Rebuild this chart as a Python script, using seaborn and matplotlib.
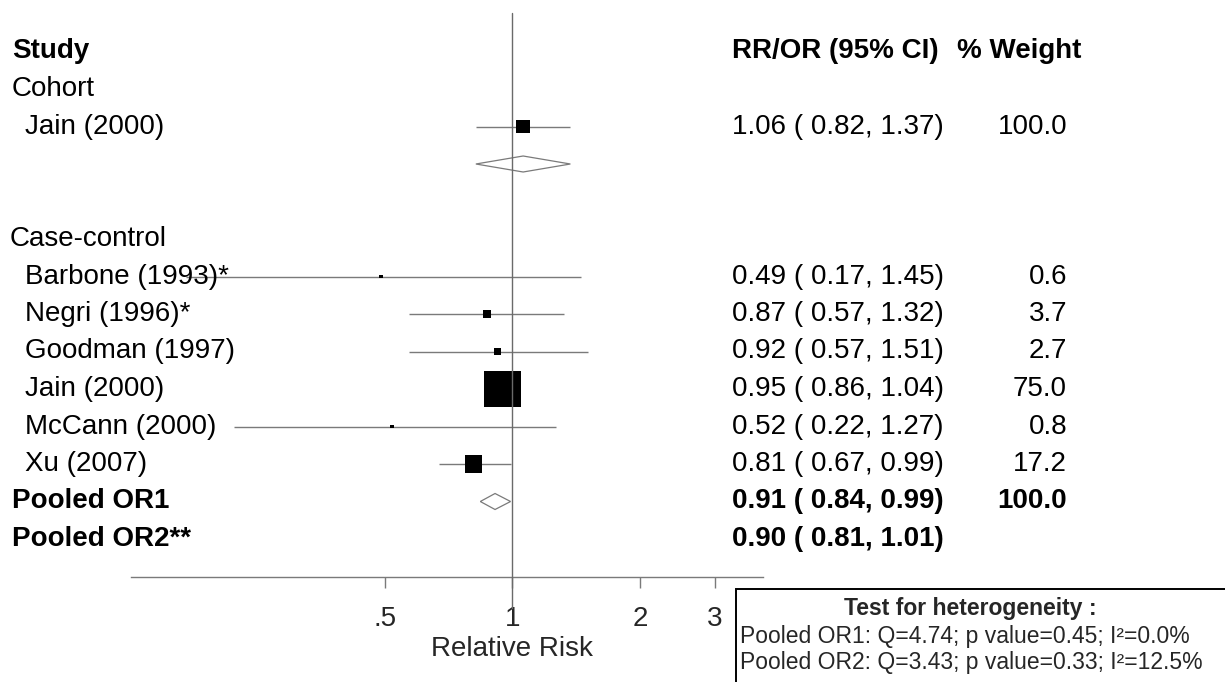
import matplotlib
matplotlib.use("Agg")
import matplotlib.pyplot as plt
import matplotlib.transforms as mtransforms
from matplotlib.patches import Rectangle
from matplotlib.ticker import FixedLocator, FixedFormatter, NullLocator
import pandas as pd
import seaborn as sns

# ---- data ----
COHORT_STUDIES = ["Jain (2000)"]
COHORT_RR = [1.06]
COHORT_LO = [0.82]
COHORT_HI = [1.37]
COHORT_W = [100.0]

CC_STUDIES = ["Barbone (1993)*", "Negri (1996)*", "Goodman (1997)",
              "Jain (2000)", "McCann (2000)", "Xu (2007)"]
CC_RR = [0.49, 0.87, 0.92, 0.95, 0.52, 0.81]
CC_LO = [0.17, 0.57, 0.57, 0.86, 0.22, 0.67]
CC_HI = [1.45, 1.32, 1.51, 1.04, 1.27, 0.99]
CC_W = [0.6, 3.7, 2.7, 75.0, 0.8, 17.2]

POOLED_LABELS = ["Pooled OR1", "Pooled OR2**"]
POOLED_RR = [0.91, 0.90]
POOLED_LO = [0.84, 0.81]
POOLED_HI = [0.99, 1.01]
POOLED_W = ["100.0", ""]

XTICKS = [0.5, 1, 2, 3]
XTICK_LABELS = [".5", "1", "2", "3"]
HET_TITLE = "Test for heterogeneity :"
HET_LINES = ["Pooled OR1: Q=4.74; p value=0.45; I²=0.0%",
             "Pooled OR2: Q=3.43; p value=0.33; I²=12.5%"]

# ---- layout (pixels of a 1225x682 canvas) ----
W, H = 1225, 682
ROW_TOP, ROW_STEP = 51.5, 37.5          # y pixel of row 0 and row spacing
AX_L, AX_R, AX_T, AX_B = 131, 763, 13, 577
FS = 20
GREY = "#7a7a7a"
AREA_PER_W = 9.45                        # pt^2 per % weight (case-control)
COHORT_AREA_PER_W = 1.0


def row_of(py):
    return (py - ROW_TOP) / ROW_STEP


def ci_text(rr, lo, hi):
    return f"{rr:.2f} ( {lo:.2f}, {hi:.2f})"


sns.set_style("white")
plt.rcParams["font.family"] = ["Liberation Sans", "DejaVu Sans"]

fig = plt.figure(figsize=(W / 100, H / 100), dpi=100)
ax = fig.add_axes([AX_L / W, 1 - AX_B / H, (AX_R - AX_L) / W, (AX_B - AX_T) / H])
ax.set_xscale("log")
ax.set_xlim(0.126, 3.9)
ax.set_ylim(row_of(AX_B), row_of(AX_T))

# rows: 0 header, 1 Cohort, 2 study, 3 diamond, 5 Case-control, 6.. studies
cohort_rows = [2]
cc_rows = list(range(6, 6 + len(CC_STUDIES)))
pooled_rows = [cc_rows[-1] + 1, cc_rows[-1] + 2]

df = pd.DataFrame({
    "row": cohort_rows + cc_rows,
    "rr": COHORT_RR + CC_RR,
    "lo": COHORT_LO + CC_LO,
    "hi": COHORT_HI + CC_HI,
    "area": [w * COHORT_AREA_PER_W for w in COHORT_W] + [w * AREA_PER_W for w in CC_W],
})

# confidence intervals
ax.hlines(df["row"], df["lo"], df["hi"], color=GREY, lw=1.0, zorder=2)
# weighted boxes
sns.scatterplot(data=df, x="rr", y="row", marker="s", s=df["area"].values,
                color="black", linewidth=0, legend=False, ax=ax, zorder=3)

# diamonds (cohort subtotal and pooled OR1)
HALF = 8 / ROW_STEP
for r, est, lo, hi in [(3, COHORT_RR[0], COHORT_LO[0], COHORT_HI[0]),
                       (pooled_rows[0], POOLED_RR[0], POOLED_LO[0], POOLED_HI[0])]:
    ax.fill([lo, est, hi, est], [r, r - HALF, r, r + HALF],
            facecolor="white", edgecolor=GREY, lw=0.9, zorder=3)

# reference line at 1
ax.plot([1, 1], [row_of(AX_T), row_of(608)], color="#6a6a6a", lw=1.0,
        clip_on=False, zorder=5)

# axis styling
for side in ("top", "left", "right"):
    ax.spines[side].set_visible(False)
ax.spines["bottom"].set_color(GREY)
ax.spines["bottom"].set_linewidth(1.0)
ax.xaxis.set_major_locator(FixedLocator(XTICKS))
ax.xaxis.set_major_formatter(FixedFormatter(XTICK_LABELS))
ax.xaxis.set_minor_locator(NullLocator())
ax.tick_params(axis="x", direction="out", length=8, width=1.0, color=GREY,
               labelsize=FS, pad=13, bottom=True)
ax.set_yticks([])
ax.set_ylabel("")
ax.set_xlabel("Relative Risk", fontsize=FS)
ax.xaxis.set_label_coords((512 - AX_L) / (AX_R - AX_L), -(649 - AX_B) / (AX_B - AX_T))
ax.xaxis.label.set_va("center")

# text columns
tr = mtransforms.blended_transform_factory(fig.transFigure, ax.transData)


def put(px, r, s, ha="left", bold=False):
    ax.text(px / W, r, s, transform=tr, ha=ha, va="center", fontsize=FS,
            fontweight="bold" if bold else "normal", color="black",
            clip_on=False, zorder=6)


put(12, 0, "Study", bold=True)
put(732, 0, "RR/OR (95% CI)", bold=True)
put(957, 0, "% Weight", bold=True)
put(12, 1, "Cohort")
for r, name, rr, lo, hi, w in zip(cohort_rows, COHORT_STUDIES, COHORT_RR,
                                  COHORT_LO, COHORT_HI, COHORT_W):
    put(25, r, name)
    put(732, r, ci_text(rr, lo, hi))
    put(1067, r, f"{w:.1f}", ha="right")
put(10, 5, "Case-control")
for r, name, rr, lo, hi, w in zip(cc_rows, CC_STUDIES, CC_RR, CC_LO, CC_HI, CC_W):
    put(25, r, name)
    put(732, r, ci_text(rr, lo, hi))
    put(1067, r, f"{w:.1f}", ha="right")
for r, name, rr, lo, hi, w in zip(pooled_rows, POOLED_LABELS, POOLED_RR,
                                  POOLED_LO, POOLED_HI, POOLED_W):
    put(12, r, name, bold=True)
    put(732, r, ci_text(rr, lo, hi), bold=True)
    if w:
        put(1067, r, w, ha="right", bold=True)

# heterogeneity box
fig.add_artist(Rectangle((736 / W, -0.05), (W + 20 - 736) / W, 0.05 + 1 - 589 / H,
                         transform=fig.transFigure, fill=False,
                         edgecolor="black", lw=1.4, clip_on=False))
fig.text(970 / W, 1 - 608 / H, HET_TITLE, ha="center", va="center",
         fontsize=16.5, fontweight="bold")
for py, line in zip([637, 662], HET_LINES):
    fig.text(740 / W, 1 - py / H, line, ha="left", va="center", fontsize=16.5)

fig.savefig("out.png", dpi=100)
